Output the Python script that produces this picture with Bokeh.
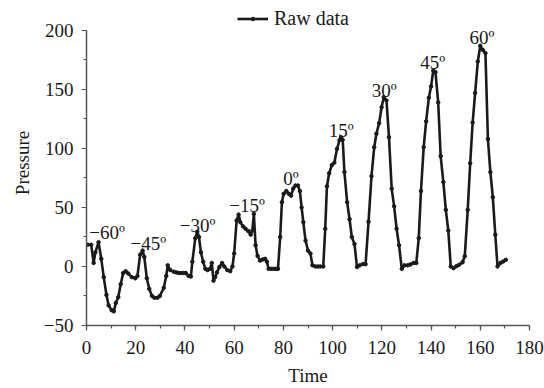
from bokeh.plotting import figure
from bokeh.models import Legend, LegendItem, Range1d, SingleIntervalTicker
from bokeh.core.properties import value
from bokeh.embed import file_html
from bokeh.resources import INLINE

time = [0.5, 1.9, 2.9, 3.6, 4.9, 6.0, 7.0, 8.1, 9.0, 10.2, 11.1, 11.9, 12.9, 13.9, 14.9,
        15.9, 17.0, 18.4, 19.8, 20.7, 21.8, 22.8, 23.5, 24.5, 25.5, 26.6, 27.6, 28.8, 29.8,
        31.4, 32.4, 33.0, 34.0, 35.5, 36.5, 37.5, 38.5, 39.5, 40.3, 41.5, 42.4, 43.0, 44.2,
        45.0, 45.7, 46.5, 47.4, 48.3, 49.2, 50.2, 50.9, 51.6, 52.3, 53.0, 54.0, 55.1, 56.0,
        57.2, 58.4, 59.3, 60.0, 61.0, 61.8, 62.5, 63.6, 64.6, 65.7, 66.7, 67.4, 68.0, 68.7,
        69.5, 70.5, 71.6, 72.6, 73.3, 74.0, 75.0, 76.0, 77.0, 77.8, 78.7, 79.4, 80.1, 81.2,
        82.2, 83.1, 84.0, 84.9, 85.9, 86.7, 87.4, 88.1, 89.0, 90.0, 91.0, 91.8, 93.0, 94.0,
        95.0, 96.2, 97.0, 97.7, 98.6, 99.7, 100.7, 101.8, 102.8, 103.4, 104.1, 104.8, 105.9,
        106.9, 107.8, 108.9, 109.9, 111.0, 112.3, 113.4, 114.6, 115.8, 116.9, 117.8, 118.9,
        119.9, 120.8, 121.9, 122.9, 124.0, 125.0, 126.0, 127.0, 128.1, 129.2, 130.5, 131.6,
        132.9, 134.0, 135.0, 135.9, 137.0, 138.0, 139.1, 140.0, 140.9, 141.8, 142.9, 143.9,
        145.0, 146.0, 147.0, 148.0, 149.1, 150.3, 151.4, 152.8, 153.7, 154.9, 155.9, 156.9,
        157.9, 159.0, 160.0, 161.0, 162.1, 163.1, 164.1, 165.1, 166.1, 167.0, 168.2, 169.3,
        170.4]
pressure = [18.4, 18.4, 3.0, 12.0, 20.6, 6.5, -9.0, -24.0, -33.0, -37.0, -38.0, -31.0, -26.0,
            -15.0, -5.6, -4.0, -6.0, -9.0, -10.0, -8.0, 10.0, 13.5, 8.0, -10.0, -19.0, -25.0,
            -26.5, -26.5, -25.0, -18.0, -8.0, 1.0, -3.0, -4.5, -5.0, -5.5, -5.5, -5.5, -5.5,
            -8.0, -8.5, 4.0, 24.0, 29.5, 25.0, 12.0, 4.0, -2.0, -3.0, -2.0, 3.0, -12.0, -9.0,
            -5.0, -0.5, 3.0, 0.0, -3.0, -4.0, 0.0, 11.0, 39.0, 44.0, 37.5, 34.0, 32.0, 30.0,
            27.0, 30.5, 44.6, 18.0, 9.0, 5.0, 6.0, 6.5, 4.0, -2.0, -2.0, -2.0, -2.0, -2.0,
            25.0, 54.5, 61.6, 64.0, 61.6, 60.0, 66.0, 68.6, 68.6, 64.0, 50.0, 37.5, 22.0,
            13.5, 11.0, 1.0, 0.0, 0.0, 0.0, 0.0, 32.0, 68.0, 79.0, 86.0, 88.0, 99.7, 107.0,
            109.6, 107.4, 80.0, 54.5, 40.0, 25.0, 19.0, -0.5, 1.0, 2.0, 2.0, 38.0, 76.5,
            101.0, 112.5, 121.5, 135.0, 143.5, 140.7, 109.6, 66.0, 51.0, 32.0, 18.0, -2.0,
            1.0, 1.0, 1.7, 3.0, 3.0, 24.0, 64.0, 101.0, 123.0, 143.0, 152.5, 166.0, 164.7,
            139.0, 93.5, 71.5, 48.0, 30.5, 0.0, -1.4, 0.3, 1.4, 3.6, 8.7, 48.0, 87.5, 122.0,
            147.0, 173.7, 187.0, 183.6, 180.8, 108.0, 80.0, 58.7, 26.9, 0.0, 3.0, 4.2, 5.7]

angle_labels = ["\u221260\u00ba", "\u221245\u00ba", "\u221230\u00ba", "\u221215\u00ba", "0\u00ba",
                "15\u00ba", "30\u00ba", "45\u00ba", "60\u00ba"]
angle_x = [8.4, 25.1, 45.1, 65.2, 83.1, 103.5, 121.0, 140.7, 160.7]
angle_y = [28.8, 19.5, 34.7, 51.7, 74.6, 115.3, 149.0, 172.9, 194.0]

FONT = "Liberation Serif"
INK = "#1a1a1a"

# frame spans the full top of the canvas so the legend sits inside it;
# the y axis itself is bounded to the -50..200 span
p = figure(width=544, height=388, output_backend="svg", toolbar_location=None,
           x_range=Range1d(0, 180), y_range=Range1d(-50, 225.4),
           min_border_left=86, min_border_right=15, min_border_top=0, min_border_bottom=57,
           x_axis_label="Time", y_axis_label="Pressure")
p.outline_line_color = None
p.grid.grid_line_color = None
p.background_fill_color = "white"

r_line = p.line(time, pressure, line_color=INK, line_width=2.6)
r_pts = p.scatter(time, pressure, size=3.5, marker="circle", fill_color=INK, line_color=INK)

p.text(x=angle_x, y=angle_y, text=angle_labels, text_font=value(FONT), text_font_size="19px",
       text_align="center", text_baseline="alphabetic", text_color=INK)

p.xaxis.ticker = SingleIntervalTicker(interval=20, num_minor_ticks=2)
p.yaxis.ticker = SingleIntervalTicker(interval=50, num_minor_ticks=2)
p.yaxis.bounds = (-50, 200)
for ax in (p.xaxis[0], p.yaxis[0]):
    ax.axis_line_color = "#555555"
    ax.axis_line_width = 1.5
    ax.major_tick_line_color = "#555555"
    ax.minor_tick_line_color = "#555555"
    ax.major_tick_line_width = 1.2
    ax.minor_tick_line_width = 1.2
    ax.major_tick_in = 0
    ax.major_tick_out = 5
    ax.minor_tick_in = 0
    ax.minor_tick_out = 3
    ax.major_label_text_font = FONT
    ax.major_label_text_font_size = "19px"
    ax.major_label_text_color = INK
    ax.axis_label_text_font = FONT
    ax.axis_label_text_font_size = "19px"
    ax.axis_label_text_font_style = "normal"
    ax.axis_label_text_color = INK
p.xaxis.major_label_standoff = 10
p.xaxis.axis_label_standoff = 8
p.yaxis.major_label_standoff = 8
p.yaxis.axis_label_standoff = 8
p.yaxis.major_label_overrides = {-50: "\u221250"}

legend = Legend(items=[LegendItem(label="Raw data", renderers=[r_line, r_pts])],
                location=(151, 295), orientation="horizontal",
                border_line_color=None, background_fill_alpha=0,
                padding=0, margin=0, spacing=0, glyph_width=31, glyph_height=9,
                label_standoff=6, label_text_font=FONT, label_text_font_size="20px",
                label_text_color=INK, label_height=20)
p.add_layout(legend)

open("out.html", "w").write(file_html(p, INLINE))
